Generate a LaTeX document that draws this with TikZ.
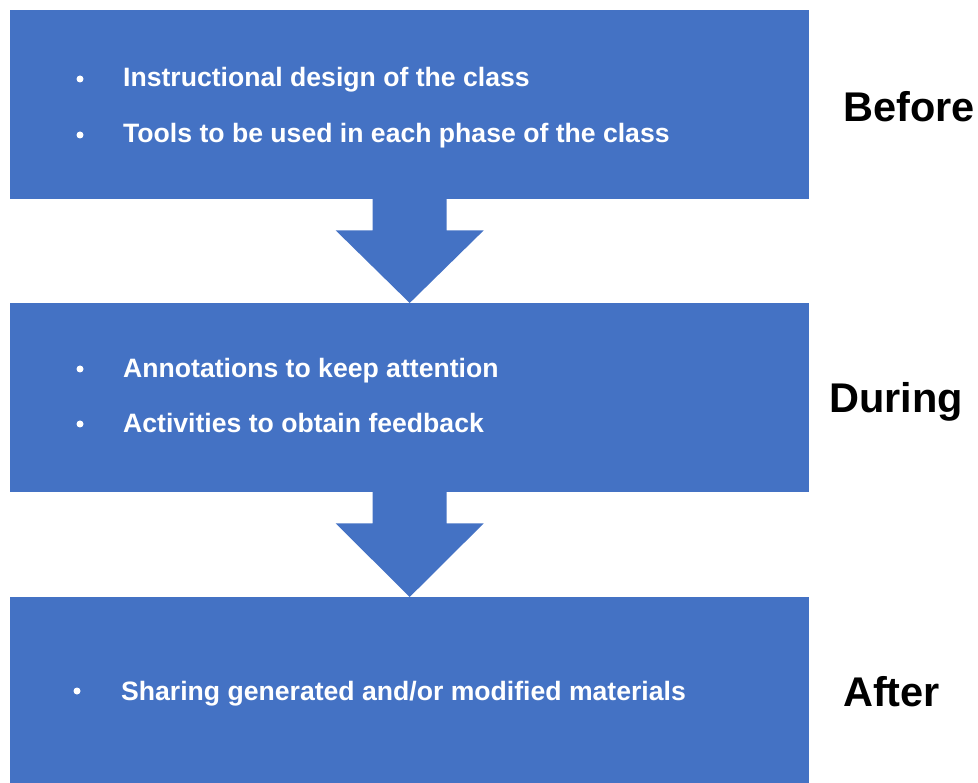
\documentclass[tikz,border=0pt]{standalone}
\usepackage{fontspec}
\setmainfont{Liberation Sans}
\usetikzlibrary{calc}
\definecolor{boxblue}{HTML}{4472C4}
\begin{document}
\begin{tikzpicture}[x=1pt,y=-1pt,
  box/.style={fill=boxblue, draw=none, minimum width=799pt, minimum height=189pt, inner sep=0pt, anchor=north west},
  item/.style={text=white, font=\fontsize{26.6}{32}\selectfont\bfseries, anchor=base west, inner sep=0pt},
  dot/.style={circle, fill=white, draw=none, inner sep=0pt, minimum size=7pt},
  phase/.style={text=black, font=\fontsize{41.5}{48}\selectfont\bfseries, anchor=base west, inner sep=0pt},
  blockarrow/.style={fill=boxblue, draw=none}]
\useasboundingbox (0,0) rectangle (978,783);
% boxes
\node[box] (b1) at (10,10) {};
\node[box] (b2) at (10,303) {};
\node[box, minimum height=187pt] (b3) at (10,597) {};
% block arrows
\fill[blockarrow] ($(b1.south)+(-37,-1)$) -- ($(b1.south)+(-37,31)$) -- ($(b1.south)+(-74,31)$) -- (b2.north) -- ($(b1.south)+(74,31)$) -- ($(b1.south)+(37,31)$) -- ($(b1.south)+(37,-1)$) -- cycle;
\fill[blockarrow] ($(b2.south)+(-37,-1)$) -- ($(b2.south)+(-37,31)$) -- ($(b2.south)+(-74,31)$) -- (b3.north) -- ($(b2.south)+(74,31)$) -- ($(b2.south)+(37,31)$) -- ($(b2.south)+(37,-1)$) -- cycle;
% box 1 items
\node[dot] (d11) at (80,79) {};
\node[item] (t11) at (123,87) {Instructional design of the class};
\node[dot] (d12) at (80,135) {};
\node[item] (t12) at (123,143) {Tools to be used in each phase of the class};
% box 2 items
\node[dot] (d21) at (80,369) {};
\node[item] (t21) at (123,378) {Annotations to keep attention};
\node[dot] (d22) at (80,424) {};
\node[item] (t22) at (123,433) {Activities to obtain feedback};
% box 3 items
\node[dot] (d31) at (77,691) {};
\node[item] (t31) at (121,700) {Sharing generated and/or modified materials};
% phase labels
\node[phase] (before) at (843,122) {Before};
\node[phase] (during) at (829,413) {During};
\node[phase] (after) at (843,706) {After};
\end{tikzpicture}
\end{document}
